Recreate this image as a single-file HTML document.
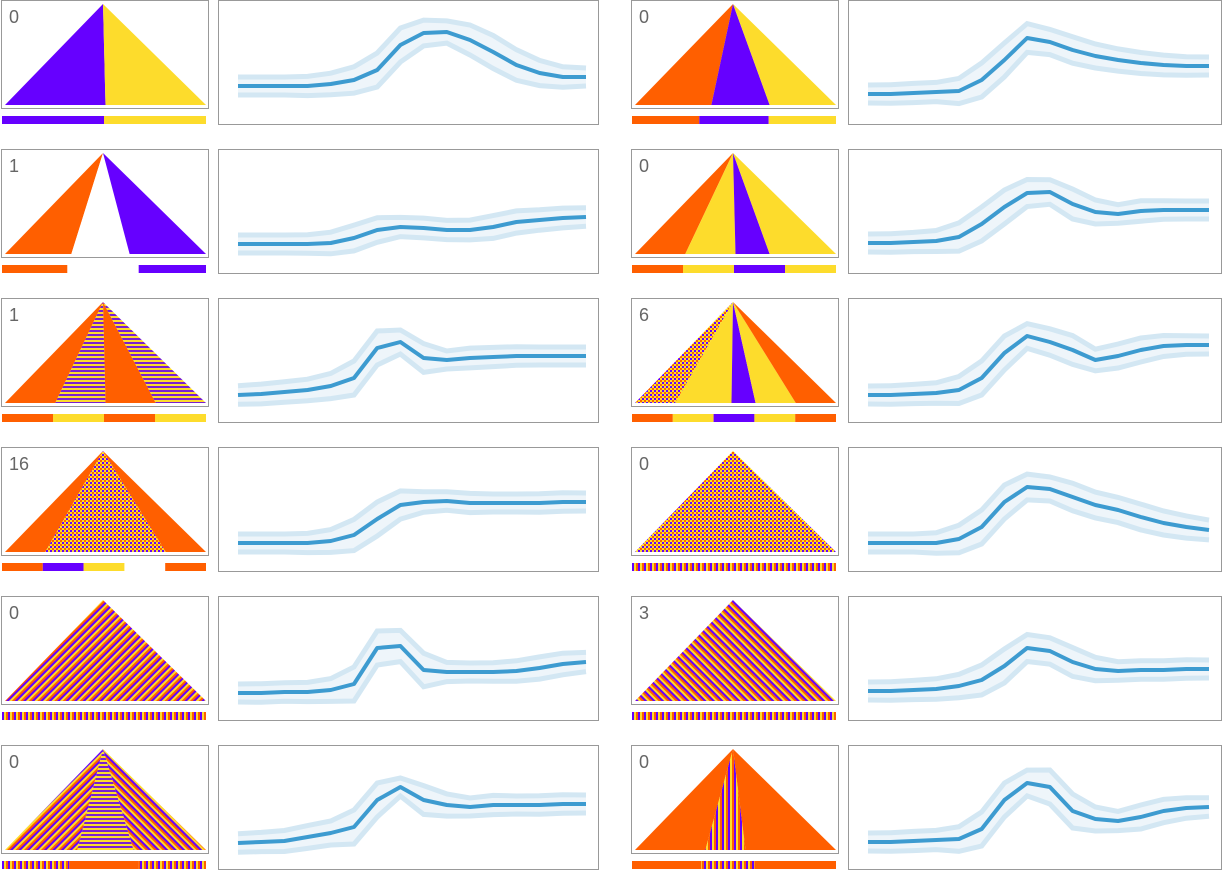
<!DOCTYPE html>
<html><head><meta charset="utf-8"><style>
html,body{margin:0;padding:0;background:#fff;}
svg{display:block;font-family:"Liberation Sans",sans-serif;}
</style></head><body>
<svg id="c" width="1222" height="870" viewBox="0 0 1222 870">
<defs>
<pattern id="pStripeH" width="4" height="4" patternUnits="userSpaceOnUse"><rect width="4" height="2" fill="#fddc2c"/><rect y="2" width="4" height="2" fill="#7a1fd0"/></pattern>
<pattern id="pDiag" width="6" height="6" patternUnits="userSpaceOnUse" patternTransform="rotate(45)"><rect width="2" height="6" fill="#ff5f00"/><rect x="2" width="2" height="6" fill="#6600ff"/><rect x="4" width="2" height="6" fill="#fddc2c"/></pattern>
<pattern id="pDiag2" width="6" height="6" patternUnits="userSpaceOnUse" patternTransform="rotate(-45)"><rect width="2" height="6" fill="#ff5f00"/><rect x="2" width="2" height="6" fill="#6600ff"/><rect x="4" width="2" height="6" fill="#fddc2c"/></pattern>
<pattern id="pCheck" width="4" height="4" patternUnits="userSpaceOnUse"><rect width="4" height="4" fill="#fddc2c"/><rect width="2" height="2" fill="#ff5f00"/><rect x="2" y="2" width="2" height="2" fill="#6600ff"/></pattern>
<pattern id="pBar" width="6" height="8" patternUnits="userSpaceOnUse"><rect width="2" height="8" fill="#ff5f00"/><rect x="2" width="2" height="8" fill="#6600ff"/><rect x="4" width="2" height="8" fill="#fddc2c"/></pattern>
</defs>
</svg>
<script>
// chart series (score = 100 - offset from panel top)
const xSteps = [0,1,2,3,4,5,6,7,8,9,10,11,12,13,14,15];
const seriesL1 = [14,14,14,14,16,20,30,55,67,68,60,48,35,27,23,23];
const seriesL2 = [5,5,5,5,6,11,19,22,21,19,19,22,27,29,31,32];
const seriesL3 = [3,4,6,8,12,20,50,56,40,38,40,41,42,42,42,42];
const seriesL4 = [4,4,4,4,6,12,28,42,45,46,44,44,44,44,45,45];
const seriesL5 = [3,3,4,4,6,12,48,50,26,24,24,24,25,28,32,34];
const seriesL6 = [2,3,4,8,12,18,45,58,45,40,38,40,40,40,41,41];
const seriesR1 = [6,6,7,8,9,20,40,62,58,50,44,40,37,35,34,34];
const seriesR2 = [6,6,7,8,12,25,42,56,57,45,37,35,38,39,39,39];
const seriesR3 = [3,3,4,5,8,20,45,62,56,48,38,42,48,52,53,53];
const seriesR4 = [4,4,4,4,8,20,45,60,58,50,42,37,30,24,20,17];
const seriesR5 = [5,5,6,7,10,16,30,48,45,34,27,25,26,26,27,27];
const seriesR6 = [3,3,4,5,6,16,45,62,58,34,26,24,28,34,37,38];
const labels = ["0","1","1","16","0","0","0","0","6","0","3","0"];

const rowTops=[0,149,298,447,596,745];
const NS="http://www.w3.org/2000/svg";
const svg=document.getElementById('c');
function el(tag,attrs,parent){const e=document.createElementNS(NS,tag);for(const k in attrs)e.setAttribute(k,attrs[k]);(parent||svg).appendChild(e);return e;}
const P='#6600ff',Y='#fddc2c',O='#ff5f00',W='#ffffff';
// triangle regions: [from,to,fill] base fractions; bars: [from,to,fill]
const tris=[
 [[0,.5,P],[.5,1,Y]],
 [[0,.33,O],[.33,.62,W],[.62,1,P]],
 [[0,.25,O],[.25,.5,'url(#pStripeH)'],[.5,.75,O],[.75,1,'url(#pStripeH)']],
 [[0,.2,O],[.2,.8,'url(#pCheck)'],[.8,1,O]],
 [[0,1,'url(#pDiag)']],
 [[0,.36,'url(#pDiag)'],[.36,.64,'url(#pStripeH)'],[.64,1,'url(#pDiag2)']],
 [[0,.38,O],[.38,.67,P],[.67,1,Y]],
 [[0,.25,O],[.25,.5,Y],[.5,.67,P],[.67,1,Y]],
 [[0,.2,'url(#pCheck)'],[.2,.48,Y],[.48,.6,P],[.6,.8,Y],[.8,1,O]],
 [[0,1,'url(#pCheck)']],
 [[0,1,'url(#pDiag2)']],
 [[0,.35,O],[.35,.55,'url(#pBar)'],[.55,1,O]]
];
const bars=[
 [[0,.5,P],[.5,1,Y]],
 [[0,.32,O],[.67,1,P]],
 [[0,.25,O],[.25,.5,Y],[.5,.75,O],[.75,1,Y]],
 [[0,.2,O],[.2,.4,P],[.4,.6,Y],[.8,1,O]],
 [[0,1,'url(#pBar)']],
 [[0,.33,'url(#pBar)'],[.33,.67,O],[.67,1,'url(#pBar)']],
 [[0,.33,O],[.33,.67,P],[.67,1,Y]],
 [[0,.25,O],[.25,.5,Y],[.5,.75,P],[.75,1,Y]],
 [[0,.2,O],[.2,.4,Y],[.4,.6,P],[.6,.8,Y],[.8,1,O]],
 [[0,1,'url(#pBar)']],
 [[0,1,'url(#pBar)']],
 [[0,.34,O],[.34,.6,'url(#pBar)'],[.6,1,O]]
];
const allSeries=[seriesL1,seriesL2,seriesL3,seriesL4,seriesL5,seriesL6,seriesR1,seriesR2,seriesR3,seriesR4,seriesR5,seriesR6];

function drawPanel(i){
  const col=i<6?0:1, row=i%6, top=rowTops[row];
  const tx=col?631:1, cx=col?848:218, cw=col?373:380;
  const g=el('g',{});
  
  
  const box=el('rect',{x:tx+.5,y:top+.5,width:207,height:108,fill:'#fff',stroke:'#999'},g);
  
  
  const ax=tx+102, ay=top+4, bl=tx+4, br=tx+205, by=top+105;
  const bx=f=>bl+(br-bl)*f;
  tris[i].forEach(r=>{
    const p=el('polygon',{points:`${ax},${ay} ${bx(r[0])},${by} ${bx(r[1])},${by}`,fill:r[2]},g);
    
    
  });
  const t=el('text',{x:tx+8,y:top+23,'font-size':18,fill:'#666'},g);
  t.textContent=labels[i];
  
  
  const bw=204;
  bars[i].forEach(r=>{
    const b=el('rect',{x:tx+1+bw*r[0],y:top+116,width:bw*(r[1]-r[0]),height:8,fill:r[2]},g);
    
    
  });
  const cb=el('rect',{x:cx+.5,y:top+.5,width:cw,height:124,fill:'#fff',stroke:'#999'},g);
  
  
  const x0=cx+20, x1=cx+cw-12;
  const xs=k=>x0+(x1-x0)*k/15;
  const ys=v=>top+100-v;
  const s=allSeries[i];
  const step=(arr,off)=>{let d='';arr.forEach((v,k)=>{const xx=xs(xSteps[k]),yy=ys(v)+off(k);d+=(k?`L${xx},${yy}`:`M${xx},${yy}`);});return d;};
  const bw2=k=>{const d=Math.abs(s[Math.min(k+1,15)]-s[Math.max(k-1,0)]);return 9+Math.min(8,d*0.3);};
  let up=s.map((v,k)=>[xs(xSteps[k]),ys(v)-bw2(k)]), lo=s.map((v,k)=>[xs(xSteps[k]),ys(v)+bw2(k)]);
  const area=el('polygon',{points:up.concat(lo.slice().reverse()).map(p=>p.join(',')).join(' '),fill:'#eef5fa'},g);
  
  
  const u=el('path',{d:step(s,k=>-bw2(k)),fill:'none',stroke:'#d3e7f3','stroke-width':5},g);
  
  
  const l=el('path',{d:step(s,k=>bw2(k)),fill:'none',stroke:'#d3e7f3','stroke-width':5},g);
  
  
  const m=el('path',{d:step(s,()=>0),fill:'none',stroke:'#3d9bd0','stroke-width':4,'stroke-linejoin':'round'},g);
  
  
}
for(let i=0;i<12;i++)drawPanel(i);
</script>
</body></html>
